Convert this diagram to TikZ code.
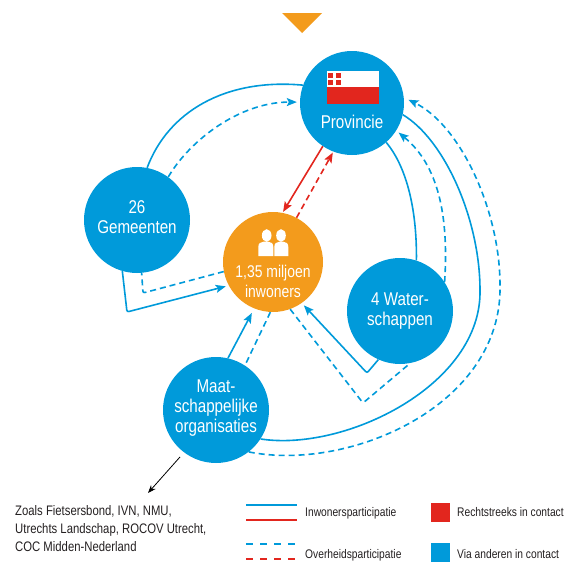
\documentclass[tikz,border=0pt]{standalone}
\usepackage{fontspec}
\setmainfont{Liberation Sans}[FakeStretch=0.82]
\usetikzlibrary{arrows.meta}
\definecolor{cblue}{RGB}{0,154,218}
\definecolor{corange}{RGB}{243,155,28}
\definecolor{cred}{RGB}{226,38,30}
\definecolor{ctext}{RGB}{35,31,32}
\begin{document}
\begin{tikzpicture}[x=1pt,y=-1pt,
  circ/.style={circle,fill=cblue,inner sep=0pt,minimum size=106pt},
  lbl/.style={text=white,font=\fontsize{18.5}{20}\selectfont,anchor=base,inner sep=0pt},
  ilbl/.style={text=white,font=\fontsize{17}{20}\selectfont,anchor=base,inner sep=0pt},
  leg/.style={text=ctext,font=\fontsize{12.5}{15}\selectfont,anchor=base west,inner sep=0pt},
  zl/.style={text=ctext,font=\fontsize{13.8}{18}\selectfont,anchor=base west,inner sep=0pt},
  sl/.style={cblue,line width=1.6pt},
  dl/.style={sl,dash pattern=on 6pt off 4pt},
  rl/.style={cred,line width=1.6pt},
  rdl/.style={rl,dash pattern=on 6pt off 4pt},
  arr/.style={-{Stealth[length=10pt,width=8pt,inset=2pt]},shorten >=3pt},
  rarr/.style={-{Stealth[length=10pt,width=8pt,inset=2pt]},shorten >=1pt},
  legl/.style={line width=2.3pt},
]
\useasboundingbox (0,0) rectangle (566,562);

% top triangle
\fill[corange] (282,13) -- (322,13) -- (302,33) -- cycle;

% circles
\node[circ,minimum size=104pt] (prov) at (352,103) {};
\node[circ] (gem) at (137,220) {};
\node[circ,fill=corange,minimum size=100pt] (inw) at (273,262) {};
\node[circ] (wat) at (400,311) {};
\node[circ] (maat) at (216,410) {};

% flag
\fill[white] (327,71) rectangle (379,87.3);
\fill[cred] (327,87.3) rectangle (379,104);
\fill[cred] (328.3,72.7) rectangle (333.3,77.7);
\fill[cred] (335.6,72.7) rectangle (340.6,77.7);
\fill[cred] (328.3,80) rectangle (333.3,85);
\fill[cred] (335.6,80) rectangle (340.6,85);

% people icon
\fill[white] (266.7,235.5) ellipse [x radius=4.8pt, y radius=6.3pt];
\fill[white] (281,235.5) ellipse [x radius=4.8pt, y radius=6.3pt];
\fill[white] (258.3,256) -- (258.3,247) .. controls (258.3,243.5) and (260.5,241.7) .. (263.5,241.7)
  -- (268.3,241.7) .. controls (271.3,241.7) and (273.3,243.5) .. (273.3,247) -- (273.3,256) -- cycle;
\fill[white] (274.3,256) -- (274.3,247) .. controls (274.3,243.5) and (276.5,241.7) .. (279.5,241.7)
  -- (283.3,241.7) .. controls (286.3,241.7) and (288.3,243.5) .. (288.3,247) -- (288.3,256) -- cycle;

% labels
\node[lbl] (provt) at (352,128) {Provincie};
\node[lbl] (gemt1) at (137,213) {26};
\node[lbl] (gemt2) at (137,233) {Gemeenten};
\node[ilbl] (inwt1) at (273,277) {1,35 miljoen};
\node[ilbl] (inwt2) at (273,297) {inwoners};
\node[lbl] (watt1) at (400,305) {4 Water-};
\node[lbl] (watt2) at (400,325) {schappen};
\node[lbl] (maatt1) at (216,392) {Maat-};
\node[lbl] (maatt2) at (216,412) {schappelijke};
\node[lbl] (maatt3) at (216,432) {organisaties};

% connectors: Gemeenten
\draw[sl] (gem.79) .. controls (168,112) and (225,78) .. (prov.160);
\draw[dl,arr] (gem.54) .. controls (190,140) and (240,102) .. (prov.179);
\coordinate (c1) at (127,312);
\draw[sl,arr,rounded corners=2pt] (gem.254) -- (c1) -- (inw.208);
\coordinate (c2) at (143,293);
\draw[dl,rounded corners=2pt] (inw.191) -- (c2) -- (gem.275);

% red direct
\draw[rl,rarr] (prov.236) -- (inw.79);
\draw[rdl,rarr] (inw.62) -- (prov.249);

% Waterschappen
\draw[sl] (prov.311) .. controls (405,165) and (417,205) .. (wat.72);
\coordinate (c3) at (367,373);
\draw[sl,arr,rounded corners=2pt] (wat.246) -- (c3) -- (inw.305);
\coordinate (c4) at (363,403);
\draw[dl,rounded corners=2pt] (inw.290) -- (c4) -- (wat.281);
\draw[dl,arr] (wat.33) .. controls (449,215) and (438,165) .. (prov.328);

% Maatschappelijke organisaties
\coordinate (k1) at (480,290);
\coordinate (k2) at (500,285);
\draw[sl] (maat.327.5) .. controls (345,452) and (482,385) .. (k1)
  .. controls (480,220) and (445,140) .. (prov.347);
\draw[dl,arr,shorten >=5pt] (maat.308) .. controls (350,472) and (503,405) .. (k2)
  .. controls (500,210) and (460,125) .. (prov.6);
\draw[sl,arr,shorten >=5pt] (maat.77) -- (inw.248);
\draw[dl] (inw.267) -- (maat.57);

% pointer to examples
\coordinate (zt) at (148,493);
\draw[black,line width=0.8pt,-{Stealth[length=8pt,width=6pt]},shorten <=6pt] (maat.233) -- (zt);
\node[zl] (z1) at (15,515) {Zoals Fietsersbond, IVN, NMU,};
\node[zl] (z2) at (15,533) {Utrechts Landschap, ROCOV Utrecht,};
\node[zl] (z3) at (15,551) {COC Midden-Nederland};

% legend
\coordinate (l1a) at (246,505); \coordinate (l1b) at (297,505);
\coordinate (l2a) at (246,520); \coordinate (l2b) at (297,520);
\coordinate (l3a) at (246,544); \coordinate (l3b) at (297,544);
\coordinate (l4a) at (246,559); \coordinate (l4b) at (297,559);
\draw[cblue,legl] (l1a) -- (l1b);
\draw[cred,legl] (l2a) -- (l2b);
\draw[cblue,legl,dash pattern=on 7pt off 7pt] (l3a) -- (l3b);
\draw[cred,legl,dash pattern=on 7pt off 7pt] (l4a) -- (l4b);
\node[leg] (lt1) at (305,516) {Inwonersparticipatie};
\node[leg] (lt2) at (305,558) {Overheidsparticipatie};
\fill[cred] (431,503) rectangle (450,522);
\fill[cblue] (431,543) rectangle (450,562);
\node[leg] (lt3) at (457,516) {Rechtstreeks in contact};
\node[leg] (lt4) at (457,558) {Via anderen in contact};
\end{tikzpicture}
\end{document}
